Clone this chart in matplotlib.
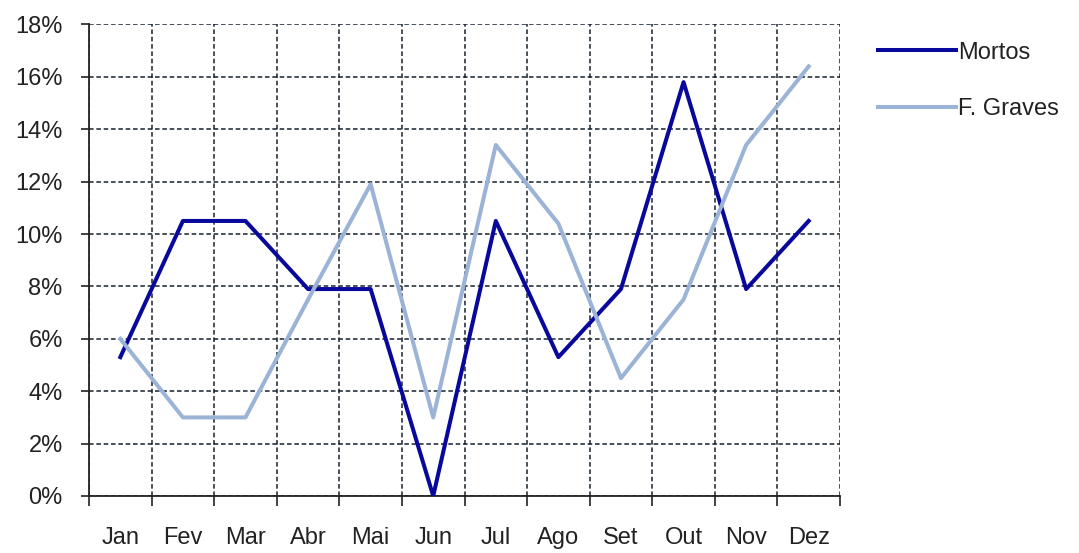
import matplotlib
matplotlib.use("Agg")
import matplotlib.pyplot as plt
import numpy as np
from matplotlib.ticker import FixedLocator, PercentFormatter

months = ["Jan", "Fev", "Mar", "Abr", "Mai", "Jun", "Jul", "Ago", "Set", "Out", "Nov", "Dez"]
mortos = [5.3, 10.5, 10.5, 7.9, 7.9, 0.0, 10.5, 5.3, 7.9, 15.8, 7.9, 10.5]
f_graves = [6.0, 3.0, 3.0, 7.5, 11.9, 3.0, 13.4, 10.4, 4.5, 7.5, 13.4, 16.4]
series_names = ["Mortos", "F. Graves"]

plt.rcParams['font.family'] = ['Liberation Sans', 'DejaVu Sans']

fig = plt.figure(figsize=(10.79, 5.53), dpi=100)
ax = fig.add_axes([0.0825, 0.1031, 0.6960, 0.8526])

x = np.arange(len(months))
ax.plot(x, mortos, color="#08089C", lw=2.9, label=series_names[0], zorder=3)
ax.plot(x, f_graves, color="#9BB3D6", lw=2.9, label=series_names[1], zorder=3)

ax.set_xlim(-0.5, len(months) - 0.5)
ax.set_ylim(0, 18)
ax.xaxis.set_major_locator(FixedLocator(np.arange(-0.5, len(months), 1.0)))
ax.xaxis.set_minor_locator(FixedLocator(x))
ax.set_xticklabels([], minor=False)
ax.set_xticklabels(months, minor=True)
ax.set_yticks(np.arange(0, 19, 2))
ax.yaxis.set_major_formatter(PercentFormatter(decimals=0))

ax.tick_params(axis='x', which='major', direction='out', length=7, width=1.2, color='#222222')
ax.tick_params(axis='x', which='minor', length=0, pad=22, labelsize=17, labelcolor='#222222')
ax.tick_params(axis='y', which='major', direction='out', length=6, width=1.2, color='#222222',
               pad=13, labelsize=17, labelcolor='#222222')

ax.grid(True, which='major', axis='both', color='#16222E', linestyle=(0, (3, 1.8)), linewidth=1.1)
ax.set_axisbelow(True)

for s in ['top', 'right']:
    ax.spines[s].set_visible(False)
for s in ['left', 'bottom']:
    ax.spines[s].set_color('#222222')
    ax.spines[s].set_linewidth(1.3)

leg = fig.legend(loc='upper left', bbox_to_anchor=(0.794, 0.963), frameon=False,
                 fontsize=17, handlelength=3.3, handletextpad=0.1, labelspacing=1.45,
                 labelcolor='#222222')

fig.savefig("out.png", dpi=100, facecolor='white')
